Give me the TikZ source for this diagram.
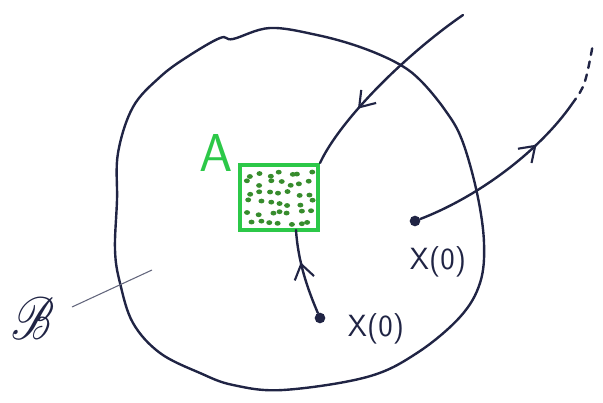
\documentclass[tikz,border=0pt]{standalone}
\usepackage{mathrsfs}
\usetikzlibrary{arrows.meta,decorations.markings,positioning}
\definecolor{inkblue}{RGB}{32,36,68}
\definecolor{markgreen}{RGB}{44,200,72}
\definecolor{dotgreen}{RGB}{55,140,45}

\begin{document}
\begin{tikzpicture}[
    x=0.75pt, y=-0.75pt,
    ink/.style={draw=inkblue, line width=1.8pt, line cap=round},
    midarrow/.style={postaction={decorate}, decoration={markings,
        mark=at position #1 with {\arrow{Straight Barb[length=3.8mm, width=5.2mm, line width=1.6pt]}}}},
    startpt/.style={circle, fill=inkblue, inner sep=0pt, minimum size=8pt},
    setbox/.style={draw=markgreen, line width=3pt, minimum width=58.5pt, minimum height=48.75pt, inner sep=0pt},
    xlabel/.style={text=inkblue, font=\sffamily\fontsize{23}{23}\selectfont}
]
\useasboundingbox (0,0) rectangle (603,403);

% the region B
\draw[ink] plot[smooth cycle, tension=0.6] coordinates {
    (115,250) (117,200) (118,153) (133,107) (160,77) (187,57) (220,38) (233,39)
    (270,28) (317,35) (360,47) (397,63) (420,80) (445,110) (462,140) (477,193)
    (484,243) (480,283) (460,317) (417,353) (367,377) (283,390) (233,385)
    (200,373) (160,353) (133,323) (120,283)};

% the set A
\node[setbox] (setA) at (279,197.5) {};
\pgfmathsetseed{5}
\foreach \col in {0,...,6}{
  \foreach \row in {0,...,5}{
    \pgfmathsetmacro\dx{250+10*\col+7*(rnd-0.5)}
    \pgfmathsetmacro\dy{174+9.5*\row+6*(rnd-0.5)}
    \fill[dotgreen] (\dx,\dy) ellipse (3 and 2.4);
  }
}
\node[text=markgreen, font=\sffamily\fontsize{40}{40}\selectfont] (labA) at (216,153) {A};

% starting points
\node[startpt] (xlow) at (320,318) {};
\node[startpt] (xright) at (415,221) {};
\node[xlabel] (labLow) at (376,329) {X(0)};
\node[xlabel] (labRight) at (438,262) {X(0)};

% label of B
\node[text=inkblue] (labB) at (33,318) {\scalebox{3.4}[4.5]{$\mathscr{B}$}};
\coordinate (pointB) at (152,270);
\draw[inkblue!70, line width=0.8pt] (72,307) -- (pointB);

% paths
\coordinate (far) at (463,15);
\coordinate (hitA) at (296,230);
\coordinate (escape) at (572,104);
\coordinate (beyond) at (593,44);

\draw[ink, midarrow=0.68] (far) .. controls (405,55) and (340,120) .. (setA.north east);
\draw[ink, midarrow=0.62] (xlow) .. controls (308,290) and (298,262) .. (hitA);
\draw[ink, midarrow=0.72] (xright) .. controls (480,196) and (540,150) .. (escape);
\draw[ink, dash pattern=on 5pt off 5pt] (escape) .. controls (585,86) .. (beyond);
\end{tikzpicture}
\end{document}
